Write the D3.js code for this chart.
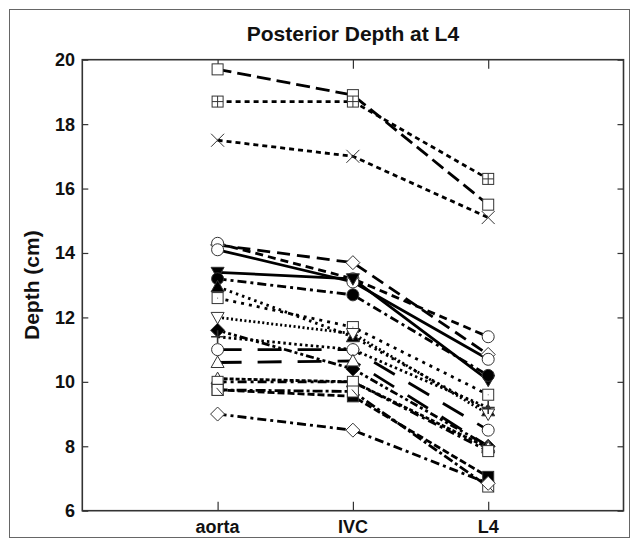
<!DOCTYPE html>
<html>
<head>
<meta charset="utf-8">
<script src="https://cdn.jsdelivr.net/npm/d3@7"></script>
<style>
    body { margin: 0; background: #fff; }
    svg text { font-family: "Liberation Sans", Arial, sans-serif; font-weight: bold; fill: #111; }
</style>
</head>
<body>
<svg id="chart" width="636" height="544"></svg>
<script>
var categories = ['aorta', 'IVC', 'L4'];
var yTicks = [6, 8, 10, 12, 14, 16, 18, 20];

// one entry per subject, depth in cm
var aorta = [19.7, 18.7, 17.5, 14.25, 14.3, 14.1, 13.4, 13.2, 12.95, 12.6, 12.0, 11.6, 11.4, 11.0, 10.6, 10.1, 10.0, 9.75, 9.75, 9.0];
var ivc   = [18.9, 18.7, 17.0, 13.7, 13.2, 13.1, 13.2, 12.7, 11.4, 11.7, 11.5, 10.4, 11.0, 11.0, 10.65, 10.0, 10.0, 9.55, 9.7, 8.5];
var l4    = [15.5, 16.3, 15.1, 10.85, 11.4, 10.7, 10.05, 10.2, 9.1, 9.6, 9.0, 8.0, 9.2, 8.5, 8.0, 7.95, 7.85, 7.05, 6.75, 6.85];

// how each subject is drawn
var markers = ['square', 'squarePlus', 'cross', 'diamond', 'circle', 'circle', 'triDownFilled', 'circleFilled',
    'triUpFilled', 'squareDot', 'triDown', 'diamondFilled', 'plus', 'circle', 'triUp', 'triUp', 'square',
    'squareFilled', 'squareDiag', 'diamond'];
var dashes = ['14,6', '5,4', '5,4', '13,7', '8,5', null, null, '9,4,3,4',
    '2.5,4', '3,5', '2,2.5', '8,3,3,3,3,3', '2.5,3', '24,16', '24,16', '4,2', '9,4,3,4',
    '7,3', '10,3,3,3', '9,4,3,4'];

var svg = d3.select('#chart');
var margin = { left: 82.3, right: 623.5, top: 59.7, bottom: 510.7 };

var x = d3.scaleLinear().domain([0, 4]).range([margin.left, margin.right]);
var y = d3.scaleLinear().domain([6, 20]).range([margin.bottom, margin.top]);

// outer frame
svg.append('rect')
    .attr('x', 9.5).attr('y', 9.5)
    .attr('width', 620).attr('height', 528)
    .attr('fill', 'none')
    .attr('stroke', '#666')
    .attr('stroke-width', 1);

// title and axis label
svg.append('text')
    .attr('x', (margin.left + margin.right) / 2)
    .attr('y', 41)
    .attr('text-anchor', 'middle')
    .style('font-size', '21px')
    .text('Posterior Depth at L4');

svg.append('text')
    .attr('transform', 'translate(39,' + ((margin.top + margin.bottom) / 2) + ') rotate(-90)')
    .attr('text-anchor', 'middle')
    .style('font-size', '21px')
    .text('Depth (cm)');

// axes: ticks point inward on all four sides
var plotW = margin.right - margin.left;
var plotH = margin.bottom - margin.top;

svg.append('g')
    .attr('class', 'axis')
    .attr('transform', 'translate(' + margin.left + ',0)')
    .call(d3.axisRight(y).tickValues(yTicks).tickSize(6).tickFormat(''));
svg.append('g')
    .attr('class', 'axis')
    .attr('transform', 'translate(' + margin.right + ',0)')
    .call(d3.axisLeft(y).tickValues(yTicks).tickSize(6).tickFormat(''));
svg.append('g')
    .attr('class', 'axis')
    .attr('transform', 'translate(0,' + margin.bottom + ')')
    .call(d3.axisTop(x).tickValues([1, 2, 3]).tickSize(9).tickFormat(''));
svg.append('g')
    .attr('class', 'axis')
    .attr('transform', 'translate(0,' + margin.top + ')')
    .call(d3.axisBottom(x).tickValues([1, 2, 3]).tickSize(9).tickFormat(''));

svg.selectAll('.axis path').remove();
svg.selectAll('.axis line').attr('stroke', '#333').attr('stroke-width', 1.2);

svg.append('rect')
    .attr('x', margin.left).attr('y', margin.top)
    .attr('width', plotW).attr('height', plotH)
    .attr('fill', 'none')
    .attr('stroke', '#333')
    .attr('stroke-width', 1.6);

// tick labels
svg.selectAll('text.ylab')
    .data(yTicks)
    .enter().append('text')
    .attr('class', 'ylab')
    .attr('x', 75)
    .attr('y', function (d) { return y(d); })
    .attr('dy', '0.36em')
    .attr('text-anchor', 'end')
    .style('font-size', '18px')
    .text(function (d) { return d; });

svg.selectAll('text.xlab')
    .data(categories)
    .enter().append('text')
    .attr('class', 'xlab')
    .attr('x', function (d, i) { return x(i + 1); })
    .attr('y', 533)
    .attr('text-anchor', 'middle')
    .style('font-size', '18px')
    .text(function (d) { return d; });

// subject lines
var subjects = aorta.map(function (d, i) {
    return { values: [aorta[i], ivc[i], l4[i]], marker: markers[i], dash: dashes[i] };
});

var line = d3.line()
    .x(function (d, i) { return x(i + 1); })
    .y(function (d) { return y(d); });

svg.append('g').selectAll('path')
    .data(subjects)
    .enter().append('path')
    .attr('d', function (d) { return line(d.values); })
    .attr('fill', 'none')
    .attr('stroke', '#000')
    .attr('stroke-width', 2.8)
    .attr('stroke-dasharray', function (d) { return d.dash; });

var markerLayer = svg.append('g');
subjects.forEach(function (s) {
    s.values.forEach(function (v, i) {
        draw_marker(markerLayer, s.marker, x(i + 1), y(v));
    });
});

function draw_marker(g, type, cx, cy) {
    var m = g.append('g')
        .attr('transform', 'translate(' + cx + ',' + cy + ')')
        .attr('stroke', '#333')
        .attr('stroke-width', 1);
    var filled = type.indexOf('Filled') > -1;
    var fill = filled ? '#000' : '#fff';
    var h = 5.5;

    if (type.indexOf('circle') === 0) {
        m.append('circle').attr('r', 6).attr('fill', fill);
    } else if (type.indexOf('square') === 0) {
        m.append('rect').attr('x', -h).attr('y', -h).attr('width', 2 * h).attr('height', 2 * h).attr('fill', fill);
        if (type === 'squarePlus') {
            m.append('path').attr('d', 'M0,' + -h + 'V' + h + 'M' + -h + ',0H' + h);
        } else if (type === 'squareDiag') {
            m.append('path').attr('d', 'M-1,-2L' + h + ',' + h);
        } else if (type === 'squareDot') {
            m.append('circle').attr('r', 0.6).attr('fill', '#666').attr('stroke', 'none');
        }
    } else if (type.indexOf('diamond') === 0) {
        m.append('path').attr('d', 'M0,-7L7,0L0,7L-7,0Z').attr('fill', fill);
    } else if (type.indexOf('triUp') === 0) {
        m.append('path').attr('d', 'M0,-6.5L6.5,5L-6.5,5Z').attr('fill', fill);
    } else if (type.indexOf('triDown') === 0) {
        m.append('path').attr('d', 'M0,6.5L6.5,-5L-6.5,-5Z').attr('fill', fill);
    } else if (type === 'cross') {
        m.append('path').attr('d', 'M-6.5,-6.5L6.5,6.5M-6.5,6.5L6.5,-6.5');
    } else if (type === 'plus') {
        m.append('path').attr('d', 'M0,-6.5V6.5M-6.5,0H6.5').attr('stroke-width', 1.6);
    }
}
</script>
</body>
</html>
